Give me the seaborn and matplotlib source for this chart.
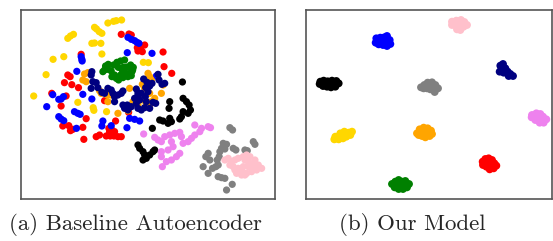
import pandas as pd
import seaborn as sns
import matplotlib.pyplot as plt

# Points (pixel-ish units, y grows downward)
# Left panel: baseline autoencoder embedding
base_gold = [(103, 288), (140, 224), (161, 178), (193, 170), (205, 115), (213, 108), (222, 103),
             (285, 82), (291, 87), (299, 95), (307, 100), (325, 69), (342, 64), (350, 62), (366, 60),
             (277, 130), (285, 129), (304, 130), (307, 162), (431, 187), (446, 188), (235, 307),
             (281, 323), (283, 331), (321, 335)]
base_green = [(318, 198), (326, 193), (315, 210), (310, 215), (325, 208), (342, 195), (352, 187),
              (363, 183), (375, 180), (356, 202), (371, 202), (368, 210), (382, 201), (393, 195),
              (401, 202), (399, 210), (390, 220), (375, 215), (363, 225), (345, 225), (337, 230),
              (350, 235), (357, 240), (370, 233), (385, 230), (395, 227), (397, 215), (335, 213)]
base_red = [(365, 103), (388, 102), (395, 105), (413, 143), (423, 148), (428, 155), (415, 153),
            (435, 135), (490, 156), (493, 200), (516, 220), (245, 163), (205, 225), (212, 230),
            (195, 248), (217, 254), (237, 263), (157, 280), (200, 288), (185, 318), (260, 356),
            (190, 378), (208, 377), (213, 392), (220, 388), (250, 382), (253, 418), (290, 410),
            (300, 405), (320, 408), (332, 408), (343, 408), (355, 410), (365, 410), (328, 385),
            (336, 388), (345, 395), (330, 396), (348, 363), (387, 337), (315, 302)]
base_blue = [(385, 112), (395, 118), (405, 122), (412, 127), (418, 130), (383, 158), (457, 160),
             (245, 170), (247, 178), (248, 183), (232, 214), (160, 284), (178, 298), (185, 297),
             (192, 290), (142, 320), (277, 297), (225, 335), (235, 340), (242, 343), (178, 350),
             (185, 357), (193, 362), (231, 385), (310, 363), (307, 378), (335, 377), (382, 383),
             (390, 355), (405, 358), (420, 363), (470, 228), (250, 283)]
base_navy = [(277, 215), (275, 225), (280, 245), (290, 248), (295, 263), (275, 265), (325, 265),
             (335, 270), (307, 277), (315, 280), (365, 280), (370, 273), (345, 290), (355, 285),
             (370, 315), (375, 325), (385, 330), (395, 320), (410, 310), (415, 325), (425, 330),
             (435, 323), (450, 325), (405, 295), (420, 300), (440, 305), (415, 285), (425, 280),
             (437, 290), (445, 275), (432, 237), (442, 247), (438, 263), (450, 258), (457, 250),
             (475, 223), (478, 240), (487, 253), (495, 250), (410, 267), (415, 278), (460, 307),
             (468, 310), (345, 305), (383, 315), (340, 280)]
base_orange = [(250, 240), (260, 245), (255, 222), (265, 218), (305, 280), (323, 285), (335, 285),
               (300, 272), (400, 305), (415, 315), (430, 300), (440, 310), (450, 315), (445, 220),
               (450, 230), (455, 240), (440, 250), (428, 253), (435, 265), (490, 255), (485, 280),
               (450, 280), (390, 265), (405, 303), (455, 305), (465, 295), (355, 340), (385, 332),
               (325, 305)]
base_black = [(548, 246), (510, 305), (508, 325), (550, 295), (560, 305), (568, 315), (572, 330),
              (565, 340), (550, 335), (545, 350), (540, 357), (510, 355), (515, 365), (505, 370),
              (490, 363), (480, 360), (458, 385), (415, 435), (420, 445), (430, 455), (435, 465),
              (430, 480), (440, 475), (450, 465), (460, 455), (465, 450)]
base_violet = [(432, 402), (465, 412), (475, 420), (485, 425), (495, 410), (510, 405), (525, 400),
               (540, 397), (545, 410), (515, 425), (520, 440), (505, 450), (485, 455), (550, 430),
               (565, 425), (575, 415), (585, 405), (600, 395), (605, 385), (585, 375), (625, 380),
               (632, 383), (540, 460), (530, 470), (515, 480), (500, 485), (488, 500), (485, 470)]
base_gray = [(690, 383), (698, 390), (760, 425), (765, 433), (735, 450), (742, 452), (670, 430),
             (680, 433), (665, 445), (675, 447), (660, 455), (658, 470), (652, 480), (625, 460),
             (618, 470), (630, 480), (610, 500), (625, 520), (638, 505), (648, 500), (655, 530),
             (665, 533), (675, 535), (697, 553), (680, 570), (700, 445), (708, 450), (655, 495)]
base_pink = [(675, 480), (685, 475), (695, 485), (705, 480), (715, 475), (730, 470), (740, 465),
             (750, 470), (735, 480), (745, 485), (760, 490), (775, 495), (785, 505), (770, 510),
             (755, 515), (740, 520), (725, 525), (710, 520), (715, 505), (700, 500), (730, 500),
             (745, 500), (760, 503), (725, 510), (690, 495), (705, 510), (735, 525), (765, 480)]

# Right panel: our model, tight clusters
ours_pink = [(485, 65), (498, 62), (512, 60), (522, 66), (530, 75), (520, 80), (508, 78), (495, 75),
             (485, 75), (500, 88), (510, 90), (515, 72), (497, 68)]
ours_blue = [(258, 115), (270, 113), (282, 112), (290, 108), (298, 120), (300, 132), (290, 138),
             (278, 135), (265, 133), (256, 128), (270, 125), (285, 124)]
ours_navy = [(630, 197), (638, 192), (634, 208), (645, 205), (628, 215), (640, 218), (652, 215),
             (660, 222), (668, 228), (655, 228), (645, 210)]
ours_black = [(90, 245), (100, 242), (112, 244), (125, 242), (138, 243), (145, 250), (135, 260),
              (122, 262), (110, 260), (98, 258), (88, 252), (117, 252), (130, 252)]
ours_gray = [(392, 262), (402, 255), (412, 248), (425, 247), (435, 255), (443, 265), (432, 270),
             (420, 268), (410, 265), (400, 265), (420, 258), (433, 276)]
ours_violet = [(725, 345), (738, 340), (750, 342), (758, 350), (768, 358), (760, 368), (748, 368),
               (735, 360), (724, 352), (742, 352), (752, 358)]
ours_gold = [(135, 410), (132, 418), (145, 412), (150, 400), (162, 395), (175, 398), (185, 395),
             (180, 405), (168, 410), (158, 415), (145, 418), (160, 405)]
ours_orange = [(380, 400), (388, 388), (400, 383), (412, 385), (422, 392), (425, 402), (418, 408),
               (405, 412), (395, 408), (385, 405), (400, 396), (410, 398)]
ours_red = [(577, 485), (585, 477), (595, 475), (605, 480), (612, 490), (618, 497), (610, 505),
            (598, 508), (588, 500), (578, 495), (595, 490), (603, 495)]
ours_green = [(305, 552), (315, 545), (325, 540), (335, 545), (345, 543), (356, 552), (350, 562),
              (338, 567), (325, 567), (313, 562), (320, 553), (335, 555)]

palette = {'gold': '#FFD700', 'green': '#008000', 'red': '#FF0000', 'blue': '#0000FF',
           'navy': '#000080', 'orange': '#FFA500', 'black': '#000000', 'violet': '#EE82EE',
           'gray': '#808080', 'pink': '#FFC0CB'}


def to_frame(groups):
    rows = []
    for name, pts in groups.items():
        for x, y in pts:
            rows.append({'x': x, 'y': y, 'cls': name})
    return pd.DataFrame(rows)


base_df = to_frame({'gold': base_gold, 'green': base_green, 'red': base_red, 'blue': base_blue,
                    'orange': base_orange, 'navy': base_navy, 'black': base_black,
                    'violet': base_violet, 'gray': base_gray, 'pink': base_pink})
ours_df = to_frame({'pink': ours_pink, 'blue': ours_blue, 'navy': ours_navy, 'black': ours_black,
                    'gray': ours_gray, 'violet': ours_violet, 'gold': ours_gold,
                    'orange': ours_orange, 'red': ours_red, 'green': ours_green})

sns.set_style('white')
fig = plt.figure(figsize=(5.53, 2.41), dpi=100)
ax1 = fig.add_axes([21 / 553, 1 - 199 / 241, 254 / 553, 189 / 241])
ax2 = fig.add_axes([306 / 553, 1 - 199 / 241, 246 / 553, 189 / 241])

sns.scatterplot(data=base_df, x='x', y='y', hue='cls', palette=palette, s=27,
                linewidth=0, legend=False, ax=ax1)
ax1.set_xlim(65, 825)
ax1.set_ylim(597, 30)

sns.scatterplot(data=ours_df, x='x', y='y', hue='cls', palette=palette, s=32,
                linewidth=0, legend=False, ax=ax2)
ax2.set_xlim(47, 785)
ax2.set_ylim(597, 30)

for ax in (ax1, ax2):
    ax.set_xticks([])
    ax.set_yticks([])
    ax.set_xlabel('')
    ax.set_ylabel('')
    for sp in ax.spines.values():
        sp.set_color('#555555')
        sp.set_linewidth(1.2)

fig.text(135 / 553, 1 - 225 / 241, '(a) Baseline Autoencoder', family='cmr10',
         fontsize=16.5, ha='center', va='center')
fig.text(412 / 553, 1 - 225 / 241, '(b) Our Model', family='cmr10',
         fontsize=16.5, ha='center', va='center')

fig.savefig('out.png', dpi=100)
